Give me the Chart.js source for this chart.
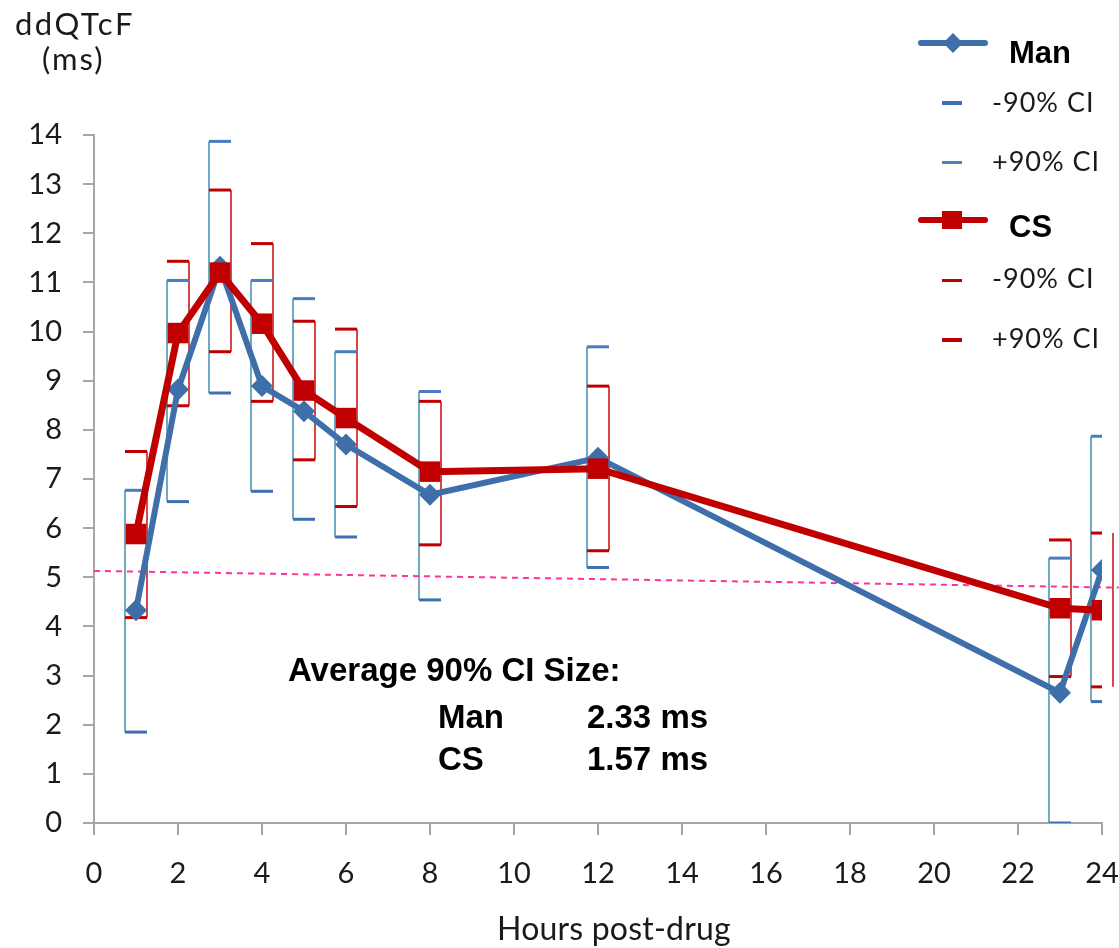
<!DOCTYPE html>
<html><head><meta charset="utf-8">
<script src="https://cdn.jsdelivr.net/npm/chart.js@4.4.1/dist/chart.umd.min.js"></script>
<style>
html,body{margin:0;padding:0;background:#fff;}
#wrap{position:relative;width:1119px;height:948px;overflow:hidden;background:#fff;}
canvas{position:absolute;left:0;top:0;}
.t{position:absolute;white-space:nowrap;line-height:1;color:#1a1a1a;margin:0;}
.lato{font-family:Lato, "Open Sans", sans-serif;}
.b{font-family:"Liberation Sans", Arial, sans-serif;font-weight:bold;color:#000;}
.mk{position:absolute;}
</style></head><body>
<div id="wrap">
<canvas id="c" width="1119" height="948"></canvas>

<div class="t lato" style="left:15px;top:8px;font-size:31px;letter-spacing:2.5px;">ddQTcF</div>
<div class="t lato" style="left:42px;top:43px;font-size:31px;letter-spacing:2px;">(ms)</div>

<div class="mk" style="left:918px;top:40px;width:70px;height:6px;background:#3F6FAA;border-radius:3px;"></div>
<div class="mk" style="left:946px;top:36px;width:14px;height:14px;background:#3F6FAA;transform:rotate(45deg);"></div>
<div class="t b" style="left:1009px;top:37px;font-size:31px;">Man</div>
<div class="mk" style="left:942px;top:101px;width:20px;height:4px;background:#3F6FB0;"></div>
<div class="t lato" style="left:992px;top:88px;font-size:27px;letter-spacing:1px;">-90% CI</div>
<div class="mk" style="left:942px;top:161px;width:20px;height:3px;background:#4F81BD;"></div>
<div class="t lato" style="left:992px;top:147px;font-size:27px;letter-spacing:1px;">+90% CI</div>

<div class="mk" style="left:918px;top:217px;width:70px;height:6px;background:#C00000;border-radius:3px;"></div>
<div class="mk" style="left:942px;top:211px;width:20px;height:18px;background:#C00000;"></div>
<div class="t b" style="left:1009px;top:211px;font-size:31px;">CS</div>
<div class="mk" style="left:942px;top:279px;width:20px;height:3px;background:#C00000;"></div>
<div class="t lato" style="left:992px;top:264px;font-size:27px;letter-spacing:1px;">-90% CI</div>
<div class="mk" style="left:942px;top:338px;width:20px;height:4px;background:#C00000;"></div>
<div class="t lato" style="left:992px;top:324px;font-size:27px;letter-spacing:1px;">+90% CI</div>

<div class="t b" style="left:288px;top:653px;font-size:33px;">Average 90% CI Size:</div>
<div class="t b" style="left:438px;top:700px;font-size:33px;">Man</div>
<div class="t b" style="left:587px;top:700px;font-size:33px;">2.33 ms</div>
<div class="t b" style="left:438px;top:742px;font-size:33px;">CS</div>
<div class="t b" style="left:587px;top:742px;font-size:33px;">1.57 ms</div>

<div class="t lato" style="left:497px;top:912px;font-size:32px;letter-spacing:0.2px;">Hours post-drug</div>
</div>
<script>
// ---- data ----
const hours   = [1, 2, 3, 4, 5, 6, 8, 12, 23, 24];
const manMean = [4.33, 8.82, 11.32, 8.89, 8.38, 7.70, 6.68, 7.43, 2.65, 5.15];
const manLo   = [1.85, 6.54, 8.75, 6.75, 6.18, 5.82, 4.54, 5.20, 0.00, 2.47];
const manHi   = [6.77, 11.04, 13.87, 11.04, 10.67, 9.59, 8.78, 9.69, 5.39, 7.87];
const csMean  = [5.88, 9.97, 11.20, 10.16, 8.80, 8.24, 7.15, 7.21, 4.37, 4.33];
const csLo    = [4.18, 8.49, 9.59, 8.58, 7.39, 6.44, 5.66, 5.54, 2.98, 2.77];
const csHi    = [7.56, 11.43, 12.88, 11.79, 10.21, 10.05, 8.58, 8.89, 5.76, 5.90];
const refX    = [0, 24.4];
const refY    = [5.13, 4.79];
const xTicks  = [0, 2, 4, 6, 8, 10, 12, 14, 16, 18, 20, 22, 24];
const yTicks  = [0, 1, 2, 3, 4, 5, 6, 7, 8, 9, 10, 11, 12, 13, 14];

const pts = (ys, xs) => (xs || hours).map((h, i) => ({x: h, y: ys[i]}));

const BLUE = '#3F6FAA', RED = '#C00000';

const stemPlugin = {
  id: 'stems',
  beforeDatasetsDraw(chart) {
    const {ctx, scales: {x, y}} = chart;
    ctx.save();
    ctx.lineWidth = 2;
    hours.forEach((h, i) => {
      const px = x.getPixelForValue(h);
      ctx.strokeStyle = '#72AAC6';
      ctx.beginPath();
      ctx.moveTo(px - 11, y.getPixelForValue(manLo[i]));
      ctx.lineTo(px - 11, y.getPixelForValue(manHi[i]));
      ctx.stroke();
      ctx.strokeStyle = '#D54848';
      ctx.beginPath();
      ctx.moveTo(px + 11, y.getPixelForValue(csLo[i]));
      ctx.lineTo(px + 11, y.getPixelForValue(csHi[i]));
      ctx.stroke();
    });
    ctx.restore();
  }
};

const capDs = (label, ys, color, w) => ({
  label, data: pts(ys), showLine: false, pointStyle: 'line',
  pointRadius: 11, pointHoverRadius: 11, borderColor: color, pointBorderColor: color,
  pointBorderWidth: w, borderWidth: w, backgroundColor: color
});

new Chart(document.getElementById('c'), {
  type: 'line',
  data: {
    datasets: [
      { label: 'CS', data: pts(csMean), borderColor: RED, backgroundColor: RED,
        borderWidth: 7, pointStyle: 'rect', pointRadius: 14.5, pointBorderWidth: 0,
        pointBackgroundColor: RED, tension: 0 },
      { label: 'Man', data: pts(manMean), borderColor: BLUE, backgroundColor: BLUE,
        borderWidth: 6, pointStyle: 'rectRot', pointRadius: 11, pointBorderWidth: 0,
        pointBackgroundColor: BLUE, tension: 0 },
      capDs('Man -90% CI', manLo, '#3F6FB0', 3),
      capDs('Man +90% CI', manHi, '#4A7CC0', 3),
      capDs('CS -90% CI', csLo, RED, 3),
      capDs('CS +90% CI', csHi, RED, 3),
      { label: 'ref', data: pts(refY, refX), borderColor: '#FF3399', borderWidth: 2,
        borderDash: [6, 5], pointRadius: 0, clip: false, tension: 0 }
    ]
  },
  options: {
    responsive: false, animation: false, devicePixelRatio: 1,
    layout: { padding: { top: 135, right: 0, left: 0, bottom: 0 } },
    plugins: { legend: { display: false }, tooltip: { enabled: false } },
    scales: {
      x: {
        type: 'linear', min: 0, max: 24,
        afterBuildTicks: s => { s.ticks = xTicks.map(v => ({value: v})); },
        afterFit: s => { s.height = 125; s.paddingRight = 17; s.paddingLeft = 0; },
        grid: { drawOnChartArea: false, drawTicks: true, tickLength: 12, color: '#A6A6A6', lineWidth: 2 },
        border: { color: '#A6A6A6', width: 2 },
        ticks: { color: '#1a1a1a', font: { family: 'Lato', size: 29 }, padding: 21, maxRotation: 0 }
      },
      y: {
        type: 'linear', min: 0, max: 14,
        afterBuildTicks: s => { s.ticks = yTicks.map(v => ({value: v})); },
        afterFit: s => { s.width = 94; },
        grid: { drawOnChartArea: false, drawTicks: true, tickLength: 11, color: '#A6A6A6', lineWidth: 2 },
        border: { color: '#A6A6A6', width: 2 },
        ticks: { color: '#1a1a1a', font: { family: 'Lato', size: 29 }, padding: 21 }
      }
    }
  },
  plugins: [stemPlugin]
});
</script>
</body></html>
